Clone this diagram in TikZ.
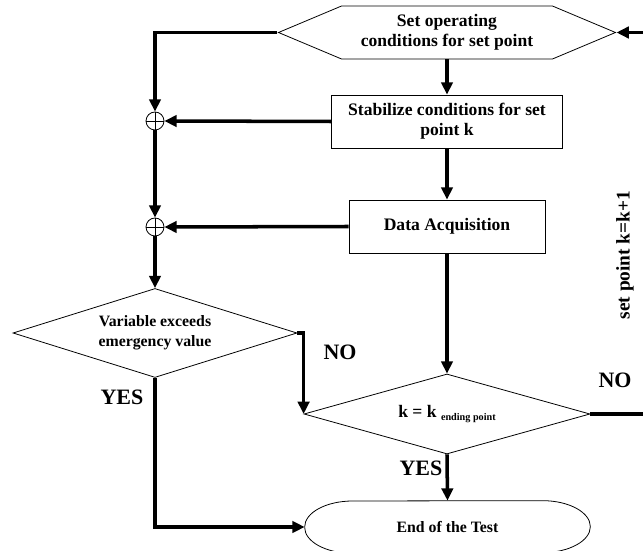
\documentclass[tikz,border=0pt]{standalone}
\usepackage{fontspec}
\setmainfont{Liberation Serif}
\usetikzlibrary{arrows.meta,shapes.geometric,shapes.symbols}

\begin{document}
\begin{tikzpicture}[
    flow/.style={line width=2pt,-{Triangle[length=7pt,width=6.5pt]}},
    line/.style={line width=2pt},
    box/.style={draw,line width=0.45pt,rectangle,minimum height=1.06cm,align=center,font=\fontsize{10}{11.5}\selectfont\bfseries},
    dec/.style={draw,line width=0.45pt,diamond,inner sep=0pt,align=center},
    sum/.style={draw,line width=0.45pt,circle,minimum size=0.36cm,inner sep=0pt,
      path picture={\draw[line width=0.45pt] (path picture bounding box.north) -- (path picture bounding box.south)
        (path picture bounding box.west) -- (path picture bounding box.east);}},
    lab/.style={font=\fontsize{12.5}{14}\selectfont\bfseries}
  ]
      \useasboundingbox (0,0) rectangle (12.86,11.02);

       % set point
      \node[draw,line width=0.45pt,signal,signal to=west and east,signal pointer angle=45.6,
        minimum width=6.74cm,minimum height=1.06cm,inner sep=0pt,align=center,
        font=\fontsize{10}{11.5}\selectfont\bfseries] (setop) at (8.94,10.37)
        {Set operating\\conditions for set point};
      \node[box,minimum width=4.62cm] (stab) at (8.94,8.59) {Stabilize conditions for set\\point k};
      \node[box,minimum width=3.92cm] (daq) at (8.94,6.49) {Data Acquisition};

       % sums
      \node[sum] (sum1) at (3.1,8.6) {};
      \node[sum] (sum2) at (3.1,6.48) {};

       % decisions
      \node[dec,aspect=3.2,minimum width=5.68cm,minimum height=1.78cm,font=\fontsize{9}{11.5}\selectfont\bfseries]
        (vardec) at (3.1,4.36) {Variable exceeds\\emergency value};
      \node[dec,aspect=3.6,minimum width=5.72cm,minimum height=1.6cm,font=\fontsize{10}{11}\selectfont\bfseries]
        (kdec) at (8.94,2.74) {k = k \raisebox{-0.3ex}{\fontsize{5.8}{6}\selectfont ending point}};

       % end
      \node[minimum width=5.7cm,minimum height=1.04cm,inner sep=0pt,font=\fontsize{9}{11}\selectfont\bfseries]
        (endtest) at (8.95,0.48) {End of the Test};
      \draw[line width=0.45pt] (endtest.west) arc[start angle=180,end angle=90,x radius=0.96cm,y radius=0.52cm]
        -- ([xshift=-0.96cm]endtest.north east) arc[start angle=90,end angle=-90,x radius=0.96cm,y radius=0.52cm]
        -- ([xshift=0.96cm]endtest.south west) arc[start angle=-90,end angle=-180,x radius=0.96cm,y radius=0.52cm];

       % loop k=k+1
      \coordinate (loopin) at (12.86,10.37);
      \coordinate (loopout) at (12.86,2.74);
      \node[font=\fontsize{11}{12}\selectfont\bfseries,rotate=90] (setnext) at (12.5,5.92) {set point k=k+1};

      \draw[flow] (setop.south) -- (stab.north);
      \draw[flow] (stab.south) -- (daq.north);
      \draw[flow] (daq.south) -- (kdec.north);
      \draw[flow] (setop.west) -| (sum1.north);
      \draw[flow] (stab.west) -- (sum1.east);
      \draw[flow] (sum1.south) -- (sum2.north);
      \draw[flow] (daq.west) -- (sum2.east);
      \draw[flow] (sum2.south) -- (vardec.north);
      \draw[flow] (vardec.south) |- (endtest.west);
      \draw[flow] (vardec.east) -| (kdec.west);
      \draw[flow] (kdec.south) -- (endtest.north);
      \draw[line] (kdec.east) -- (loopout);
      \draw[flow] (loopin) -- (setop.east);

       % labels
      \node[lab] (novar) at (6.8,3.98) {NO};
      \node[lab] (yesvar) at (2.44,3.08) {YES};
      \node[lab] (yesk) at (8.42,1.66) {YES};
      \node[lab] (nok) at (12.3,3.42) {NO};
    \end{tikzpicture}
\end{document}
